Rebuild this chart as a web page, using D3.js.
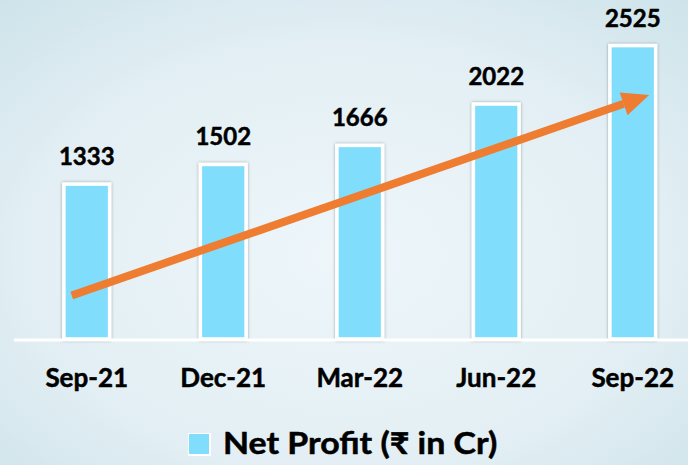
<!DOCTYPE html>
<html>
<head>
<meta charset="utf-8">
<script src="https://cdn.jsdelivr.net/npm/d3@7"></script>
<style>
  html, body { margin: 0; padding: 0; }
  svg { display: block; font-family: Lato, "Open Sans", sans-serif; }
</style>
</head>
<body>
<svg></svg>
<script>
const quarters = ["Sep-21", "Dec-21", "Mar-22", "Jun-22", "Sep-22"];
const netProfit = [1333, 1502, 1666, 2022, 2525];
const seriesName = "Net Profit (₹ in Cr)";
// trend arrow, in data terms: [category index, value]
const trendFrom = [-0.11, 375];
const trendTo = [4.12, 2100];

const W = 688, H = 465;
const svg = d3.select("svg").attr("width", W).attr("height", H);

// background
const defs = svg.append("defs");
const bg = defs.append("radialGradient").attr("id", "bg")
  .attr("cx", "50%").attr("cy", "55%").attr("r", "75%");
bg.append("stop").attr("offset", "0%").attr("stop-color", "#eef6fa");
bg.append("stop").attr("offset", "60%").attr("stop-color", "#e3eff4");
bg.append("stop").attr("offset", "100%").attr("stop-color", "#cde3ea");
svg.append("rect").attr("width", W).attr("height", H).attr("fill", "url(#bg)");

const shadow = defs.append("filter").attr("id", "shadow")
  .attr("x", "-30%").attr("y", "-10%").attr("width", "160%").attr("height", "120%");
shadow.append("feDropShadow").attr("dx", 0).attr("dy", 0).attr("stdDeviation", 1.6)
  .attr("flood-color", "#000").attr("flood-opacity", 0.35);

const baseY = 339;
const x = d3.scaleBand().domain(quarters).range([18.5, 701]).paddingInner(0.665).paddingOuter(0.3325);
const y = d3.scaleLinear().domain([0, 2900]).range([baseY, baseY - 2900 * 0.1162]);

// bars
svg.append("g").selectAll("rect").data(netProfit).join("rect")
  .attr("x", (d, i) => x(quarters[i]))
  .attr("y", d => y(d))
  .attr("width", x.bandwidth())
  .attr("height", d => baseY - y(d))
  .attr("fill", "#81ddfc")
  .attr("stroke", "#fff")
  .attr("stroke-width", 3.5)
  .attr("filter", "url(#shadow)");

// baseline
svg.append("line").attr("x1", 14).attr("x2", W).attr("y1", baseY + 1).attr("y2", baseY + 1)
  .attr("stroke", "#fff").attr("stroke-width", 3);

// value labels
svg.append("g").selectAll("text").data(netProfit).join("text")
  .attr("x", (d, i) => x(quarters[i]) + x.bandwidth() / 2)
  .attr("y", d => y(d) - 19)
  .attr("text-anchor", "middle")
  .attr("font-size", 24).attr("font-weight", 700).attr("fill", "#000")
  .attr("stroke", "#000").attr("stroke-width", 0.5)
  .text(d => d);

// category axis
const axis = svg.append("g").attr("transform", `translate(0,${baseY})`)
  .call(d3.axisBottom(x).tickSize(0).tickPadding(0));
axis.select(".domain").remove();
axis.selectAll("text").attr("dy", null).attr("y", 48)
  .attr("font-family", "Lato, 'Open Sans', sans-serif")
  .attr("font-size", 26).attr("font-weight", 700).attr("fill", "#000")
  .attr("stroke", "#000").attr("stroke-width", 0.5);

// trend arrow
const xi = d3.scaleLinear().domain([0, quarters.length - 1])
  .range([x(quarters[0]) + x.bandwidth() / 2, x(quarters[quarters.length - 1]) + x.bandwidth() / 2]);
const x0 = xi(trendFrom[0]), y0 = y(trendFrom[1]);
const x1 = xi(trendTo[0]), y1 = y(trendTo[1]);
const ang = Math.atan2(y1 - y0, x1 - x0);
const headLen = 27, headW = 12;
const bx = x1 - headLen * Math.cos(ang), by = y1 - headLen * Math.sin(ang);
svg.append("line").attr("x1", x0).attr("y1", y0).attr("x2", bx).attr("y2", by)
  .attr("stroke", "#ee7d31").attr("stroke-width", 8);
const nx = -Math.sin(ang), ny = Math.cos(ang);
svg.append("path")
  .attr("d", d3.line()([[x1, y1], [bx + nx * headW, by + ny * headW], [bx - nx * headW, by - ny * headW]]) + "Z")
  .attr("fill", "#ee7d31");

// legend
const lg = svg.append("g").attr("transform", "translate(188,433)");
lg.append("rect").attr("x", 0).attr("y", 0).attr("width", 23).attr("height", 23).attr("fill", "#fff");
lg.append("rect").attr("x", 1).attr("y", 1).attr("width", 20).attr("height", 20).attr("fill", "#81ddfc");
lg.append("text").attr("transform", "translate(35,20.5) scale(1.13,1)")
  .attr("font-size", 30).attr("font-weight", 700).attr("fill", "#000")
  .attr("stroke", "#000").attr("stroke-width", 0.5)
  .text(seriesName);
</script>
</body>
</html>
